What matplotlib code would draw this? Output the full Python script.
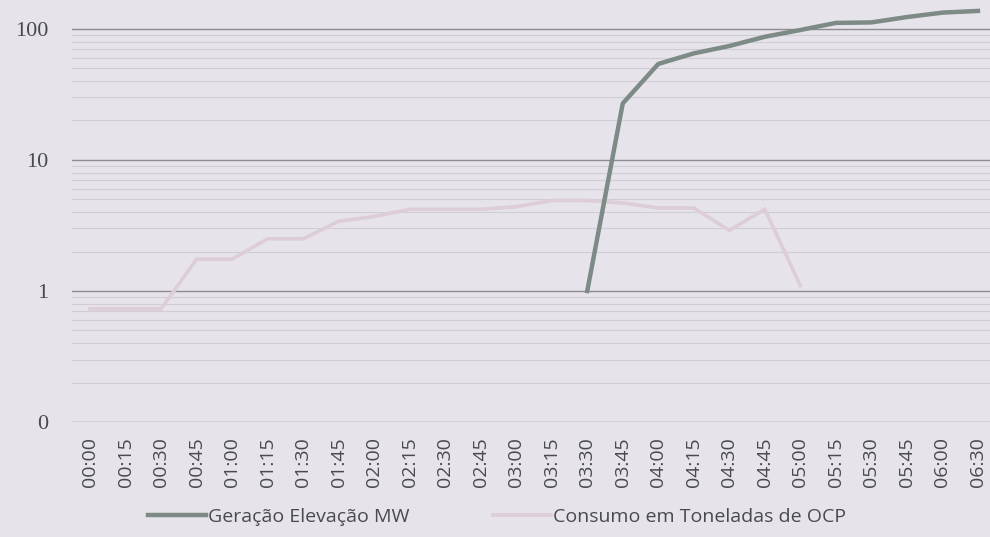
import matplotlib
matplotlib.use("Agg")
import matplotlib.pyplot as plt
import numpy as np
from matplotlib.ticker import FixedLocator, LogLocator, NullFormatter

times = ["00:00", "00:15", "00:30", "00:45", "01:00", "01:15", "01:30", "01:45",
         "02:00", "02:15", "02:30", "02:45", "03:00", "03:15", "03:30", "03:45",
         "04:00", "04:15", "04:30", "04:45", "05:00", "05:15", "05:30", "05:45",
         "06:00", "06:30"]

geracao = [np.nan] * 14 + [1.0, 27, 54, 65, 74, 87, 98, 111, 112, 123, 133, 137]

consumo = [0.73, 0.73, 0.73, 1.75, 1.75, 2.5, 2.5, 3.4, 3.7, 4.2, 4.2, 4.2,
           4.4, 4.9, 4.9, 4.7, 4.3, 4.3, 2.9, 4.2, 1.1] + [np.nan] * 5

y_ticks = [0.1, 1, 10, 100]
y_labels = ["0", "1", "10", "100"]

bg = "#e6e4ea"
fig = plt.figure(figsize=(9.9, 5.37), dpi=100, facecolor=bg)
ax = fig.add_axes([0.073, 0.214, 0.927, 0.786])
ax.set_facecolor(bg)

x = np.arange(len(times))
ax.plot(x, consumo, color="#dccdd6", lw=2.6, solid_joinstyle="miter", zorder=3,
        label="Consumo em Toneladas de OCP")
ax.plot(x, geracao, color="#7d8a86", lw=3.2, zorder=4,
        label="Geração Elevação MW")

ax.set_yscale("log")
ax.set_ylim(0.1, 166)
ax.set_xlim(-0.5, 25.34)

ax.yaxis.set_major_locator(FixedLocator(y_ticks))
ax.set_yticklabels(y_labels, family="Liberation Serif", fontsize=16, color="#4a4850")
ax.yaxis.set_minor_locator(LogLocator(base=10, subs=np.arange(2, 10)))
ax.yaxis.set_minor_formatter(NullFormatter())
ax.grid(True, which="major", axis="y", color="#8e8b93", lw=1.0)
ax.grid(True, which="minor", axis="y", color="#d0cdd4", lw=0.8)
ax.set_axisbelow(True)

ax.set_xticks(x)
ax.set_xticklabels(times, rotation=90, family="Open Sans", fontsize=14, color="#4a4850")
ax.tick_params(axis="x", length=0, pad=11)
ax.tick_params(axis="y", length=0, pad=17)
ax.tick_params(axis="y", which="minor", length=0)
for s in ax.spines.values():
    s.set_visible(False)

h, l = ax.get_legend_handles_labels()
h[0].set_linewidth(2.6)
leg = fig.legend([h[1], h[0]], [l[1], l[0]], loc="lower center", ncol=2,
                 bbox_to_anchor=(0.502, -0.012), frameon=False,
                 prop={"family": "Open Sans", "size": 14}, handlelength=3.0,
                 handletextpad=0.1, columnspacing=4.3)
for t in leg.get_texts():
    t.set_color("#4a4850")

fig.savefig("out.png", dpi=100, facecolor=bg)
